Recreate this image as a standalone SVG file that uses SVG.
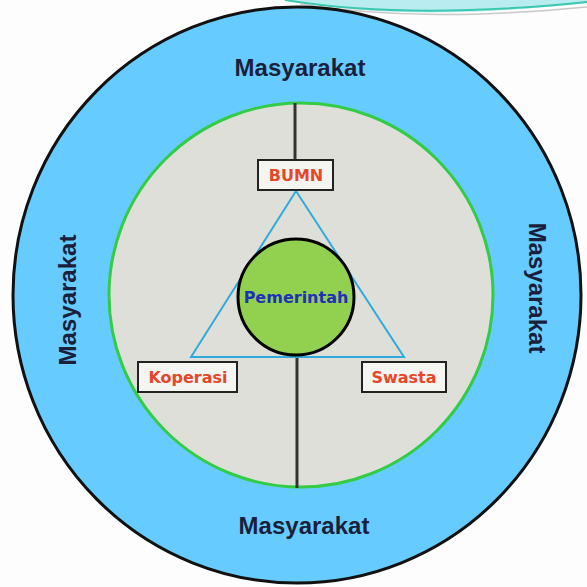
<svg xmlns="http://www.w3.org/2000/svg" width="587" height="587" viewBox="0 0 587 587">
<style>
.lbl{font-family:"DejaVu Sans",Verdana,sans-serif;font-weight:bold;font-size:16px;fill:#E4472A;text-anchor:middle}
.soc{font-family:"Liberation Sans",Arial,sans-serif;font-weight:bold;font-size:24px;fill:#1B1F3C;text-anchor:middle}
.box{fill:#F4F4F0;stroke:#222;stroke-width:2}
.conn{stroke:#333;stroke-width:3;fill:none}
</style>
<rect width="587" height="587" fill="#FDFDFD"/>
<g id="decor">
<path d="M285,0 C370,16 470,16 587,3 L587,0 Z" fill="#B8ECF0"/>
<path d="M285,0 C370,14 470,14 587,2" fill="none" stroke="#3CC8B0" stroke-width="2"/>
<path d="M300,4 C390,18 480,17 587,7" fill="none" stroke="#C8C8C8" stroke-width="1.5"/>
</g>
<g id="masyarakat-ring">
<ellipse cx="297" cy="295" rx="284" ry="288" fill="#66CCFF" stroke="#111" stroke-width="3"/>
<text class="soc" x="300" y="76">Masyarakat</text>
<text class="soc" x="304" y="534">Masyarakat</text>
<text class="soc" transform="translate(76,300) rotate(-90)">Masyarakat</text>
<text class="soc" transform="translate(529,288) rotate(90)">Masyarakat</text>
</g>
<g id="inner-ring">
<circle cx="301" cy="295" r="192" fill="#DFDFDA" stroke="#33CC44" stroke-width="3"/>
</g>
<g id="connectors">
<line class="conn" x1="295" y1="103" x2="295" y2="160"/>
<line class="conn" x1="297" y1="354" x2="297" y2="488"/>
<polygon points="296,191 191,357 404,357" fill="none" stroke="#30AADC" stroke-width="2"/>
</g>
<g id="pemerintah">
<circle cx="296" cy="297" r="58" fill="#92D050" stroke="#000" stroke-width="3"/>
<text class="lbl" x="296" y="303" style="fill:#2030B8">Pemerintah</text>
</g>
<g id="bumn">
<rect class="box" x="258" y="160" width="75" height="30"/>
<text class="lbl" x="296" y="181">BUMN</text>
</g>
<g id="koperasi">
<rect class="box" x="138" y="362" width="99" height="30"/>
<text class="lbl" x="188" y="383">Koperasi</text>
</g>
<g id="swasta">
<rect class="box" x="362" y="362" width="84" height="30"/>
<text class="lbl" x="404" y="383">Swasta</text>
</g>
</svg>
